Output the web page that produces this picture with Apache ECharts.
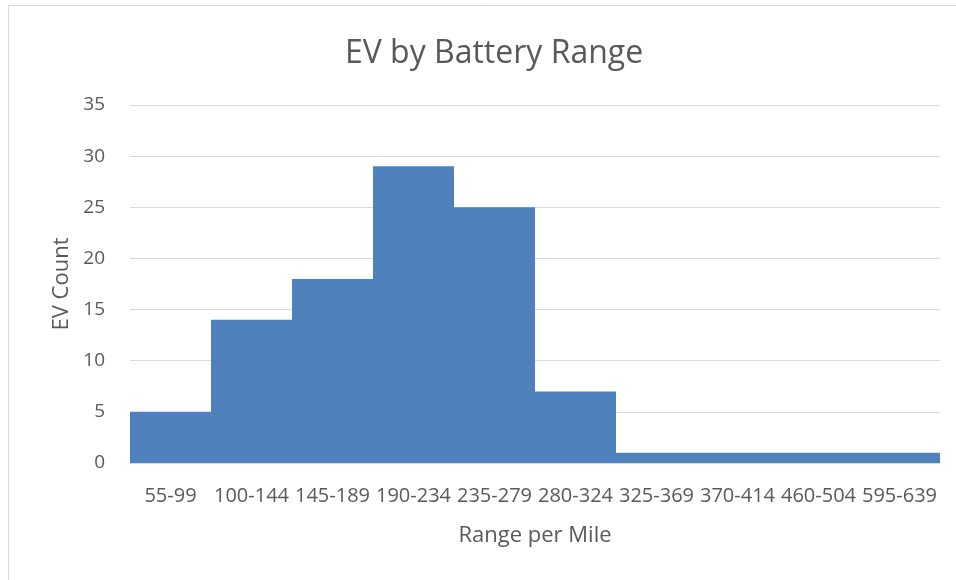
<!DOCTYPE html>
<html>
<head>
<meta charset="utf-8">
<script src="https://cdn.jsdelivr.net/npm/echarts@6/dist/echarts.min.js"></script>
<style>
  html, body { margin: 0; padding: 0; background: #fff; }
  #chart { width: 956px; height: 580px; }
</style>
</head>
<body>
<div id="chart"></div>
<script>
const categories = ['55-99', '100-144', '145-189', '190-234', '235-279', '280-324', '325-369', '370-414', '460-504', '595-639']
const evCounts = [5, 14, 18, 29, 25, 7, 1, 1, 1, 1]

const textColor = '#595959'
const fontFamily = '"Open Sans", sans-serif'

const chart = echarts.init(document.getElementById('chart'))

chart.setOption({
  animation: false,
  backgroundColor: '#fff',
  title: {
    text: 'EV by Battery Range',
    left: 489,
    top: 33,
    textAlign: 'center',
    textStyle: {
      fontFamily,
      fontSize: 32,
      fontWeight: 'normal',
      color: textColor
    }
  },
  graphic: [
    {
      type: 'rect',
      shape: { x: 8.5, y: 5.5, width: 1200, height: 1200 },
      style: { fill: 'none', stroke: '#D9D9D9', lineWidth: 1 },
      silent: true
    }
  ],
  grid: {
    left: 130,
    right: 16,
    top: 105,
    bottom: 117
  },
  xAxis: {
    type: 'category',
    data: categories,
    name: 'Range per Mile',
    nameLocation: 'middle',
    nameGap: 62,
    nameTextStyle: { fontFamily, fontSize: 22, color: textColor },
    axisTick: { show: false },
    axisLine: { show: true, lineStyle: { color: '#D9D9D9', width: 1 } },
    axisLabel: {
      interval: 0,
      margin: 23,
      fontFamily,
      fontSize: 20,
      color: textColor
    }
  },
  yAxis: {
    type: 'value',
    min: 0,
    max: 35,
    interval: 5,
    name: 'EV Count',
    nameLocation: 'middle',
    nameGap: 55,
    nameTextStyle: { fontFamily, fontSize: 22, color: textColor },
    axisLine: { show: false },
    axisTick: { show: false },
    axisLabel: {
      margin: 25,
      fontFamily,
      fontSize: 19,
      color: textColor
    },
    splitLine: { show: true, lineStyle: { color: '#D9D9D9', width: 1 } }
  },
  series: [
    {
      type: 'bar',
      data: evCounts,
      barCategoryGap: '0%',
      itemStyle: {
        color: '#4F81BD'
      }
    }
  ]
})
</script>
</body>
</html>
